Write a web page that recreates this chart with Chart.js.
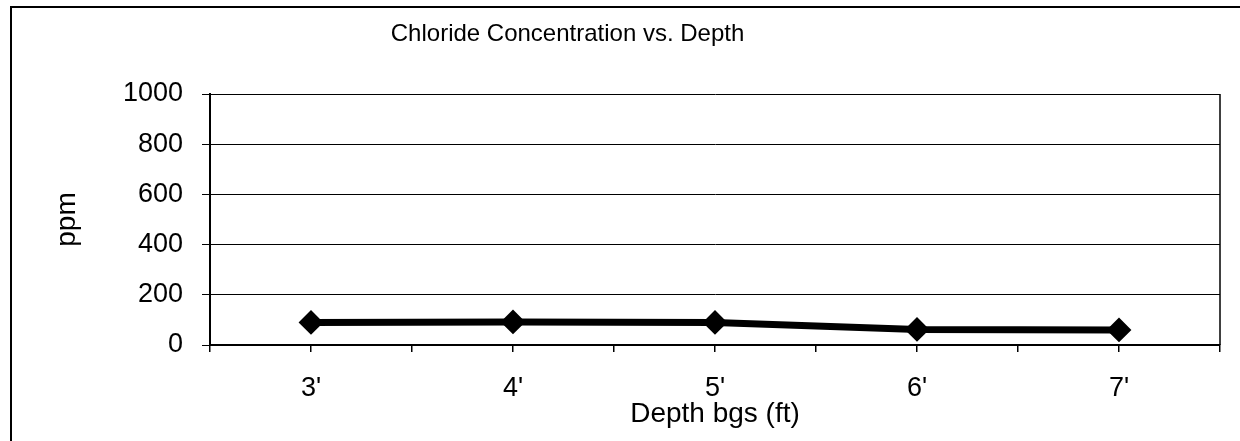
<!DOCTYPE html>
<html>
<head>
<meta charset="utf-8">
<script src="https://cdn.jsdelivr.net/npm/chart.js@4.4.1/dist/chart.umd.min.js"></script>
<style>
  html, body { margin: 0; padding: 0; background: #fff; }
  canvas { display: block; }
</style>
</head>
<body>
<canvas id="chart" width="1240" height="441"></canvas>
<script>
// data
const depths = [3, 4, 5, 6, 7];
const depthLabels = ["3'", "4'", "5'", "6'", "7'"];
const chloride = [90, 92, 90, 62, 60];
const yTicks = [0, 200, 400, 600, 800, 1000];

const chartTitle = 'Chloride Concentration vs. Depth';
const fontFamily = 'Arial, "Liberation Sans", sans-serif';

// outer frame, plot right edge and the title
const framePlugin = {
  id: 'frame',
  afterDraw(chart) {
    const ctx = chart.ctx;
    const area = chart.chartArea;
    ctx.save();
    ctx.strokeStyle = '#000';
    ctx.lineWidth = 2;
    ctx.beginPath();
    ctx.moveTo(11, 441);
    ctx.lineTo(11, 7);
    ctx.lineTo(1240, 7);
    ctx.stroke();

    ctx.lineWidth = 1.5;
    ctx.beginPath();
    ctx.moveTo(area.right, area.top);
    ctx.lineTo(area.right, area.bottom);
    ctx.stroke();

    ctx.fillStyle = '#000';
    ctx.font = '24px ' + fontFamily;
    ctx.textAlign = 'center';
    ctx.textBaseline = 'middle';
    ctx.fillText(chartTitle, area.left + area.width * 0.354, area.top - 60);
    ctx.restore();
  }
};

new Chart(document.getElementById('chart'), {
  type: 'line',
  data: {
    datasets: [{
      label: 'Chloride',
      data: depths.map((d, i) => ({ x: d, y: chloride[i] })),
      borderColor: '#000',
      backgroundColor: '#000',
      borderWidth: 7,
      pointStyle: 'rectRot',
      pointRadius: 11,
      pointBorderWidth: 2,
      pointBackgroundColor: '#000',
      pointBorderColor: '#000',
      tension: 0
    }]
  },
  options: {
    responsive: false,
    animation: false,
    layout: { padding: { left: 12, right: 18, top: 94, bottom: 0 } },
    plugins: {
      legend: { display: false },
      title: { display: false },
      tooltip: { enabled: false }
    },
    scales: {
      x: {
        type: 'linear',
        min: 2.5,
        max: 7.5,
        afterFit(scale) { scale.height = 96; },
        afterBuildTicks(scale) {
          const ticks = [];
          for (let v = 2.5; v <= 7.5; v += 0.5) ticks.push({ value: v });
          scale.ticks = ticks;
        },
        ticks: {
          autoSkip: false,
          maxRotation: 0,
          padding: 20,
          color: '#000',
          font: { family: fontFamily, size: 27 },
          callback(v) {
            const i = depths.indexOf(v);
            return i >= 0 ? depthLabels[i] : '';
          }
        },
        grid: {
          drawOnChartArea: false,
          drawTicks: true,
          tickLength: 7,
          color: '#000',
          lineWidth: 1.5
        },
        border: { color: '#000', width: 2 },
        title: {
          display: true,
          text: 'Depth bgs (ft)',
          color: '#000',
          font: { family: fontFamily, size: 28 },
          padding: { top: 0, bottom: 10 }
        }
      },
      y: {
        min: 0,
        max: 1000,
        afterFit(scale) { scale.width = 198; },
        afterBuildTicks(scale) {
          scale.ticks = yTicks.map(v => ({ value: v }));
        },
        ticks: {
          padding: 19,
          color: '#000',
          font: { family: fontFamily, size: 27 },
          callback: v => String(v)
        },
        grid: {
          color: '#000',
          lineWidth: 1,
          tickLength: 8
        },
        border: { color: '#000', width: 2 },
        title: {
          display: true,
          text: 'ppm',
          color: '#000',
          font: { family: fontFamily, size: 28 },
          padding: { top: 38, bottom: 0 }
        }
      }
    }
  },
  plugins: [framePlugin]
});
</script>
</body>
</html>
